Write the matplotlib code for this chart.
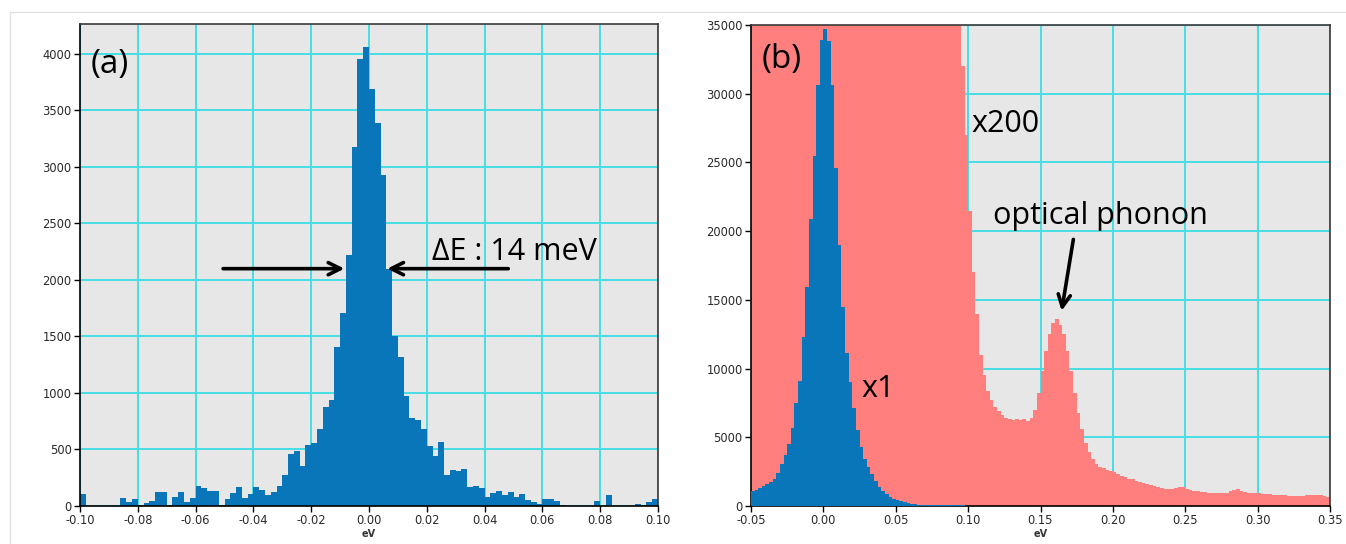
import matplotlib
matplotlib.use('Agg')
import matplotlib.pyplot as plt
import numpy as np
from matplotlib.lines import Line2D

# ---- panel (a): energy histogram, 0.002 eV bins from -0.10 to 0.10 ----
a_start = -0.10
a_width = 0.002
a_counts = [
    110, 0, 0, 0, 0, 0, 0, 73, 38, 58,
    9, 23, 47, 120, 128, 5, 82, 128, 35, 70,
    175, 155, 131, 131, 5, 58, 111, 164, 73, 102,
    164, 143, 93, 123, 175, 277, 458, 483, 358, 537,
    560, 684, 878, 937, 1404, 1711, 2218, 3174, 3953, 4065,
    3688, 3387, 2930, 2095, 1505, 1316, 974, 776, 761, 681,
    531, 442, 564, 273, 320, 307, 331, 167, 177, 161,
    76, 117, 132, 94, 126, 82, 103, 53, 32, 15,
    59, 59, 47, 9, 0, 0, 0, 0, 0, 47,
    0, 97, 0, 0, 0, 0, 18, 12, 35, 60,
]

# ---- panel (b): x1 and x200 spectra, 0.0025 eV bins from -0.05 ----
b_start = -0.05
b_width = 0.0025
b_counts_x1 = [
    1080, 1150, 1280, 1420, 1580, 1780, 2000, 2400, 3050, 3700,
    4500, 5700, 7500, 9100, 12300, 15900, 20900, 25500, 30600, 33900,
    34700, 33800, 30600, 24600, 19000, 14500, 11100, 9000, 7100, 5500,
    4300, 3400, 2850, 2350, 1800, 1400, 1100, 860, 690, 540,
    430, 340, 265, 205, 160, 130, 105, 92, 85, 80,
    75, 70, 65, 60, 60, 55, 50, 50, 45,
]
# x200 curve; 35000 = off scale (clipped at the top of the axis)
b_counts_x200 = [
    35000, 35000, 35000, 35000, 35000, 35000, 35000, 35000, 35000, 35000,
    35000, 35000, 35000, 35000, 35000, 35000, 35000, 35000, 35000, 35000,
    35000, 35000, 35000, 35000, 35000, 35000, 35000, 35000, 35000, 35000,
    35000, 35000, 35000, 35000, 35000, 35000, 35000, 35000, 35000, 35000,
    35000, 35000, 35000, 35000, 35000, 35000, 35000, 35000, 35000, 35000,
    35000, 35000, 35000, 35000, 35000, 35000, 35000, 35000, 32000, 27000,
    21500, 17000, 14000, 11000, 9500, 8400, 7700, 7200, 6900, 6600,
    6400, 6300, 6250, 6300, 6250, 6300, 6200, 6400, 7000, 8200,
    9800, 11300, 12500, 13300, 13600, 13200, 12500, 11300, 9800, 8200,
    6800, 5600, 4600, 3900, 3400, 3050, 2850, 2750, 2650, 2580,
    2450, 2300, 2200, 2100, 2000, 1950, 1800, 1720, 1700, 1600,
    1530, 1450, 1370, 1300, 1260, 1230, 1220, 1320, 1400, 1380,
    1250, 1180, 1120, 1080, 1040, 1000, 980, 960, 930, 920,
    930, 960, 1060, 1200, 1250, 1120, 1030, 980, 960, 930,
    910, 890, 870, 850, 830, 810, 800, 780, 760, 750,
    740, 730, 740, 790, 800, 780, 790, 770, 740, 640,
]

a_xticks = [-0.10, -0.08, -0.06, -0.04, -0.02, 0.00, 0.02, 0.04, 0.06, 0.08, 0.10]
a_yticks = [0, 500, 1000, 1500, 2000, 2500, 3000, 3500, 4000]
b_xticks = [-0.05, 0.00, 0.05, 0.10, 0.15, 0.20, 0.25, 0.30, 0.35]
b_yticks = [0, 5000, 10000, 15000, 20000, 25000, 30000, 35000]

BLUE = '#0a76ba'
RED = '#ff7e7e'
GRID = '#46dde3'
BG = '#e7e7e7'
TXT = ['Open Sans', 'DejaVu Sans']
FS = 22


def edges(start, width, n):
    return start + width * np.arange(n + 1)


def style_axes(ax, xticks, yticks, xlim, ylim):
    ax.set_facecolor(BG)
    ax.set_xlim(*xlim)
    ax.set_ylim(*ylim)
    ax.set_xticks(xticks)
    ax.set_xticklabels([f'{t:.2f}' for t in xticks])
    ax.set_yticks(yticks)
    ax.set_yticklabels([str(t) for t in yticks])
    ax.grid(True, color=GRID, linewidth=1.4)
    ax.set_axisbelow(True)
    ax.tick_params(direction='out', length=4, width=1, pad=2,
                   labelsize=8.3, labelcolor='#2a2a2a')
    for s in ['left', 'bottom']:
        ax.spines[s].set_color('black')
        ax.spines[s].set_linewidth(1.2)
    for s in ['top', 'right']:
        ax.spines[s].set_color('#3a3a3a')
        ax.spines[s].set_linewidth(1.2)
    ax.set_xlabel('eV', fontsize=7, fontweight='bold', labelpad=1, color='#333333')


def arrow(ax, start, end):
    ax.annotate('', xy=end, xytext=start,
                arrowprops=dict(arrowstyle='->', lw=2.6, color='black',
                                mutation_scale=22, shrinkA=0, shrinkB=0))


fig = plt.figure(figsize=(13.46, 5.44), dpi=100)
W, H = 1346, 544

# faint frames of the two source images
fig.add_artist(Line2D([10 / W, 10 / W], [0, 1 - 12 / H], color='#e2e2e2', lw=1))
fig.add_artist(Line2D([10 / W, 1], [1 - 12 / H, 1 - 12 / H], color='#e2e2e2', lw=1))

ax_a = fig.add_axes([80 / W, 38 / H, 578 / W, 482 / H])
ax_b = fig.add_axes([751 / W, 38 / H, 579 / W, 481 / H])

# panel (a)
ax_a.stairs(a_counts, edges(a_start, a_width, len(a_counts)),
            fill=True, color=BLUE, zorder=2)
style_axes(ax_a, a_xticks, a_yticks, (-0.10, 0.10), (0, 4265))
ax_a.text(-0.0963, 3830, '(a)', fontsize=24, family=TXT, va='baseline', ha='left')
arrow(ax_a, (-0.0505, 2100), (-0.0085, 2100))
arrow(ax_a, (0.0482, 2100), (0.0063, 2100))
ax_a.text(0.0218, 2180, '\u0394E : 14 meV', fontsize=FS, family=TXT,
          va='baseline', ha='left')

# panel (b)
ax_b.stairs(b_counts_x200, edges(b_start, b_width, len(b_counts_x200)),
            fill=True, color=RED, zorder=2)
ax_b.stairs(b_counts_x1, edges(b_start, b_width, len(b_counts_x1)),
            fill=True, color=BLUE, zorder=3)
style_axes(ax_b, b_xticks, b_yticks, (-0.05, 0.35), (0, 35000))
ax_b.text(-0.0428, 31900, '(b)', fontsize=24, family=TXT, va='baseline', ha='left')
ax_b.text(0.1025, 27230, 'x200', fontsize=FS, family=TXT, va='baseline', ha='left')
ax_b.text(0.0265, 7935, 'x1', fontsize=FS, family=TXT, va='baseline', ha='left')
ax_b.text(0.1172, 20530, 'optical phonon', fontsize=FS, family=TXT,
          va='baseline', ha='left')
arrow(ax_b, (0.1727, 19400), (0.1646, 14200))

fig.savefig('out.png', dpi=100)
